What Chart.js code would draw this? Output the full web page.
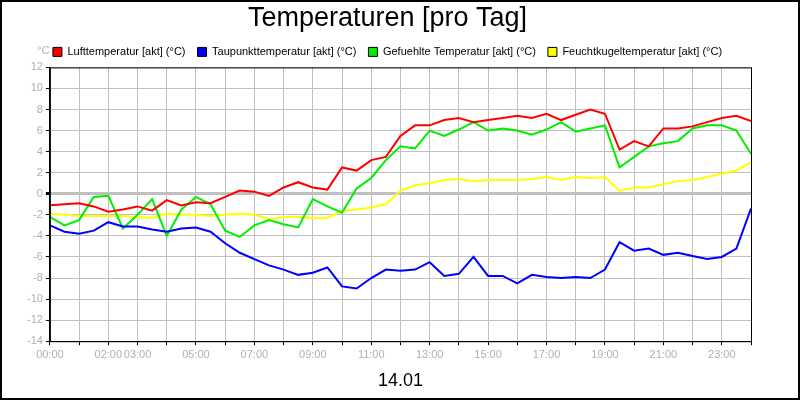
<!DOCTYPE html>
<html>
<head>
<meta charset="utf-8">
<script src="https://cdn.jsdelivr.net/npm/chart.js@4"></script>
<style>
  body { margin: 0; background: #fff; }
  canvas { display: block; }
</style>
</head>
<body>
<canvas id="tempChart" width="800" height="400"></canvas>
<script>
// half-hour steps, 00:00 .. 24:00
const hours = [0,0.5,1,1.5,2,2.5,3,3.5,4,4.5,5,5.5,6,6.5,7,7.5,8,8.5,9,9.5,10,10.5,11,11.5,12,12.5,13,13.5,14,14.5,15,15.5,16,16.5,17,17.5,18,18.5,19,19.5,20,20.5,21,21.5,22,22.5,23,23.5,24];
const luft = [-1.1,-1.0,-0.9,-1.2,-1.7,-1.5,-1.2,-1.6,-0.6,-1.1,-0.8,-0.9,-0.3,0.3,0.2,-0.2,0.6,1.1,0.6,0.4,2.5,2.2,3.2,3.5,5.5,6.5,6.5,7.0,7.2,6.8,7.0,7.2,7.4,7.2,7.6,7.0,7.5,8.0,7.6,4.2,5.0,4.5,6.2,6.2,6.4,6.8,7.2,7.4,6.9];
const taupunkt = [-3.0,-3.6,-3.8,-3.5,-2.7,-3.1,-3.1,-3.4,-3.6,-3.3,-3.2,-3.6,-4.7,-5.6,-6.2,-6.8,-7.2,-7.7,-7.5,-7.0,-8.8,-9.0,-8.0,-7.2,-7.3,-7.2,-6.5,-7.8,-7.6,-6.0,-7.8,-7.8,-8.5,-7.7,-7.9,-8.0,-7.9,-8.0,-7.2,-4.6,-5.4,-5.2,-5.8,-5.6,-5.9,-6.2,-6.0,-5.2,-1.4];
const gefuehlt = [-2.2,-3.0,-2.5,-0.3,-0.2,-3.3,-2.0,-0.5,-4.0,-1.5,-0.3,-1.0,-3.5,-4.1,-3.0,-2.5,-2.9,-3.2,-0.5,-1.2,-1.8,0.5,1.5,3.2,4.5,4.3,6.0,5.5,6.1,6.8,6.0,6.2,6.0,5.6,6.1,6.8,5.9,6.2,6.5,2.5,3.5,4.5,4.8,5.0,6.2,6.5,6.5,6.0,3.8];
const feuchtkugel = [-1.9,-2.0,-2.1,-2.1,-2.1,-2.1,-2.2,-2.3,-1.9,-2.0,-2.0,-2.1,-2.0,-1.9,-2.0,-2.4,-2.2,-2.2,-2.3,-2.3,-1.6,-1.5,-1.3,-1.0,0.3,0.8,1.0,1.3,1.4,1.2,1.3,1.3,1.3,1.4,1.6,1.3,1.6,1.5,1.6,0.3,0.6,0.6,0.9,1.2,1.3,1.6,1.9,2.2,3.0];
const labelHours = [0,2,3,5,7,9,11,13,15,17,19,21,23];

function pts(vals) { return vals.map((v, i) => ({ x: hours[i], y: v })); }
function series(label, vals, color) {
    return { label: label, data: pts(vals), borderColor: color, backgroundColor: color,
             borderWidth: 2, pointRadius: 0, tension: 0 };
}

// frame around canvas, plot box and unit label
const extras = {
    id: 'extras',
    afterDraw(chart) {
        const c = chart.ctx, a = chart.chartArea;
        c.save();
        c.strokeStyle = '#000';
        c.lineWidth = 1;
        c.strokeRect(a.left + 0.5, a.top + 0.5, a.right - a.left, a.bottom - a.top);
        c.lineWidth = 2;
        c.strokeRect(1, 1, 798, 398);
        c.fillStyle = '#b0b0b0';
        c.font = '11px "Liberation Sans"';
        c.textAlign = 'left';
        c.fillText('°C', 37, 51);
        c.restore();
    }
};

Chart.defaults.font.family = '"Liberation Sans", Arial, sans-serif';
new Chart(document.getElementById('tempChart').getContext('2d'), {
    type: 'line',
    data: {
        datasets: [
            series('Lufttemperatur [akt] (°C)', luft, '#ff0000'),
            series('Taupunkttemperatur [akt] (°C)', taupunkt, '#0000ff'),
            series('Gefuehlte Temperatur [akt] (°C)', gefuehlt, '#00ee00'),
            series('Feuchtkugeltemperatur [akt] (°C)', feuchtkugel, '#ffff00')
        ]
    },
    options: {
        responsive: false,
        animation: false,
        layout: { padding: { left: 24, right: 49, top: 0, bottom: 4 } },
        plugins: {
            title: {
                display: true,
                text: 'Temperaturen [pro Tag]',
                color: '#000',
                font: { size: 27, weight: 'normal' },
                padding: { top: 2, bottom: 0 }
            },
            legend: {
                labels: {
                    color: '#000',
                    font: { size: 11 },
                    boxWidth: 9,
                    boxHeight: 9,
                    padding: 12,
                    generateLabels(chart) {
                        return chart.data.datasets.map((d, i) => ({
                            text: d.label, fillStyle: d.borderColor, strokeStyle: '#000',
                            lineWidth: 1, datasetIndex: i, fontColor: '#000'
                        }));
                    }
                }
            },
            tooltip: { enabled: false }
        },
        scales: {
            x: {
                type: 'linear',
                min: 0,
                max: 24,
                ticks: {
                    stepSize: 1,
                    autoSkip: false,
                    maxRotation: 0,
                    color: '#b0b0b0',
                    font: { size: 11 },
                    callback: v => labelHours.includes(v) ? String(v).padStart(2, '0') + ':00' : ''
                },
                grid: { color: '#c0c0c0', tickColor: '#000', tickLength: 4 },
                border: { color: '#000' },
                title: { display: true, text: '14.01', color: '#000', font: { size: 18 }, padding: { top: 6 } }
            },
            y: {
                min: -14,
                max: 12,
                ticks: { stepSize: 2, autoSkip: false, color: '#b0b0b0', font: { size: 11 } },
                grid: {
                    color: '#c0c0c0',
                    lineWidth: ctx => ctx.tick && ctx.tick.value === 0 ? 3 : 1,
                    tickLength: 4,
                    tickColor: '#000'
                },
                border: { color: '#000' }
            }
        }
    },
    plugins: [extras]
});
</script>
</body>
</html>
